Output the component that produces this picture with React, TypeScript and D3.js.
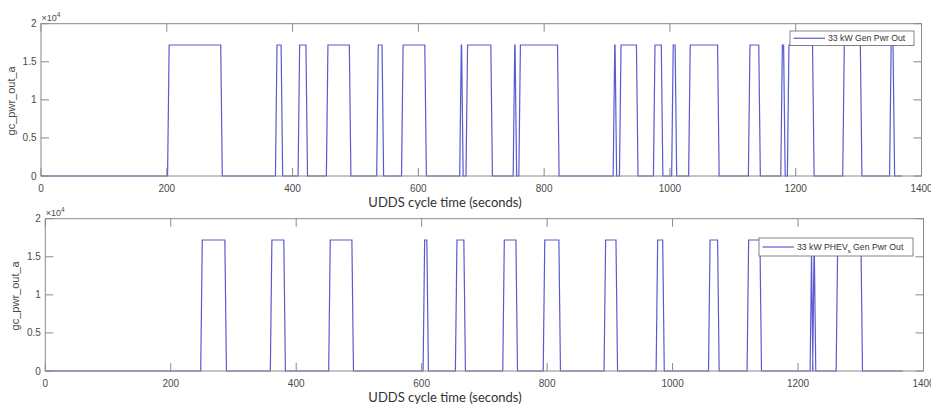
import * as d3 from 'd3';
import React from 'react';

const W = 931;
const H = 405;

const xTicks = [0, 200, 400, 600, 800, 1000, 1200, 1400];
const yTicks = [0, 0.5, 1, 1.5, 2];
const yTickLabels = ['0', '0.5', '1', '1.5', '2'];

const PEAK = 1.72; // x10^4 W
const RAMP = 2.5; // seconds per edge

// 33 kW Gen Pwr Out (top) - switch on / off times, seconds
const genOn = [202.5, 374, 410, 455, 535, 574.5, 667, 677, 752, 761, 911, 921, 975, 1004, 1031, 1126, 1177.5, 1188, 1276, 1350.5];
const genOff = [287, 383, 422.5, 491.5, 543.5, 611.5, 670, 716.5, 755, 822.5, 914, 948, 987.5, 1009.5, 1077, 1142.5, 1182, 1228, 1304, 1356];
const genEnd = 1369;

// 33 kW PHEVs Gen Pwr Out (bottom)
const phevOn = [249, 360, 453, 603.5, 655, 730.5, 795, 892, 975, 1058.5, 1120, 1220.5, 1224.5, 1262];
const phevOff = [287.5, 381.5, 490, 609.5, 668.5, 751.5, 820, 911, 985.5, 1073, 1140.5, 1222.5, 1227, 1301.5];
const phevEnd = 1367;

const LINE = '#5a5ad0';
const AXIS = '#8a8a8a';
const TXT = '#4a4a4a';
const FONT = 'Arial, "Liberation Sans", Helvetica, sans-serif';

function steps(on: number[], off: number[], end: number): [number, number][] {
  const pts: [number, number][] = [[0, 0]];
  on.forEach((t, i) => {
    pts.push([t - RAMP / 2, 0], [t + RAMP / 2, PEAK], [off[i] - RAMP / 2, PEAK], [off[i] + RAMP / 2, 0]);
  });
  pts.push([end, 0]);
  return pts;
}

type PanelProps = {
  x0: number; x1: number; y0: number; y1: number;
  data: [number, number][];
  legend: { x: number; y: number; w: number; h: number };
  legendText: React.ReactNode;
};

function Panel({ x0, x1, y0, y1, data, legend, legendText }: PanelProps) {
  const x = d3.scaleLinear().domain([0, 1400]).range([x0, x1]);
  const y = d3.scaleLinear().domain([0, 2]).range([y1, y0]);
  const line = d3.line<[number, number]>().x(d => x(d[0])).y(d => y(d[1]));
  const tl = 8;
  const ly = legend.y + legend.h / 2;
  return (
    <g>
      <path d={line(data) || ''} fill="none" stroke={LINE} strokeWidth={1.2} />
      <rect x={x0} y={y0} width={x1 - x0} height={y1 - y0} fill="none" stroke={AXIS} strokeWidth={1} />
      {xTicks.map(t => (
        <g key={'x' + t}>
          <line x1={x(t)} x2={x(t)} y1={y1} y2={y1 - tl} stroke={AXIS} />
          <line x1={x(t)} x2={x(t)} y1={y0} y2={y0 + tl} stroke={AXIS} />
          <text x={x(t)} y={y1 + 15.5} textAnchor="middle" fontSize={10} fill={TXT} fontFamily={FONT}>{t}</text>
        </g>
      ))}
      {yTicks.map((t, i) => (
        <g key={'y' + t}>
          <line x1={x0} x2={x0 + tl} y1={y(t)} y2={y(t)} stroke={AXIS} />
          <line x1={x1} x2={x1 - tl} y1={y(t)} y2={y(t)} stroke={AXIS} />
          <text x={x0 - 4.5} y={y(t) + 3.5} textAnchor="end" fontSize={10} fill={TXT} fontFamily={FONT}>{yTickLabels[i]}</text>
        </g>
      ))}
      <text x={x0 + 0.5} y={y0 - 3} fontSize={9} fill={TXT} fontFamily={FONT}>
        ×10<tspan dy={-4} fontSize={6.5}>4</tspan>
      </text>
      <text transform={`translate(${x0 - 26},${(y0 + y1) / 2 + 1}) rotate(-90)`} textAnchor="middle" fontSize={11} fill={TXT} fontFamily={FONT}>gc_pwr_out_a</text>
      <text x={445} y={y1 + 31} textAnchor="middle" fontSize={13} fill="#333" fontFamily='Lato, "Open Sans", sans-serif'>UDDS cycle time (seconds)</text>
      <rect x={legend.x} y={legend.y} width={legend.w} height={legend.h} fill="#fff" stroke="#666" strokeWidth={0.8} />
      <line x1={legend.x + 3.5} x2={legend.x + 35} y1={ly} y2={ly} stroke={LINE} strokeWidth={1.2} />
      <text x={legend.x + 38} y={ly + 3} fontSize={8.7} fill="#333" fontFamily={FONT}>{legendText}</text>
    </g>
  );
}

export default function App() {
  const gen = steps(genOn, genOff, genEnd);
  const phev = steps(phevOn, phevOff, phevEnd);
  return (
    <svg width={W} height={H} style={{ position: 'absolute', left: 0, top: 0, background: '#fff' }}>
      <rect width={W} height={H} fill="#fff" />
      <Panel x0={41} x1={921.5} y0={23.7} y1={176} data={gen}
        legend={{ x: 790, y: 31, w: 124, h: 14.5 }}
        legendText="33 kW Gen Pwr Out" />
      <Panel x0={45.3} x1={923.5} y0={218.7} y1={371} data={phev}
        legend={{ x: 759, y: 238, w: 154, h: 18 }}
        legendText={<>33 kW PHEV<tspan dy={3} fontSize={6}>s</tspan><tspan dy={-3}> Gen Pwr Out</tspan></>} />
    </svg>
  );
}
